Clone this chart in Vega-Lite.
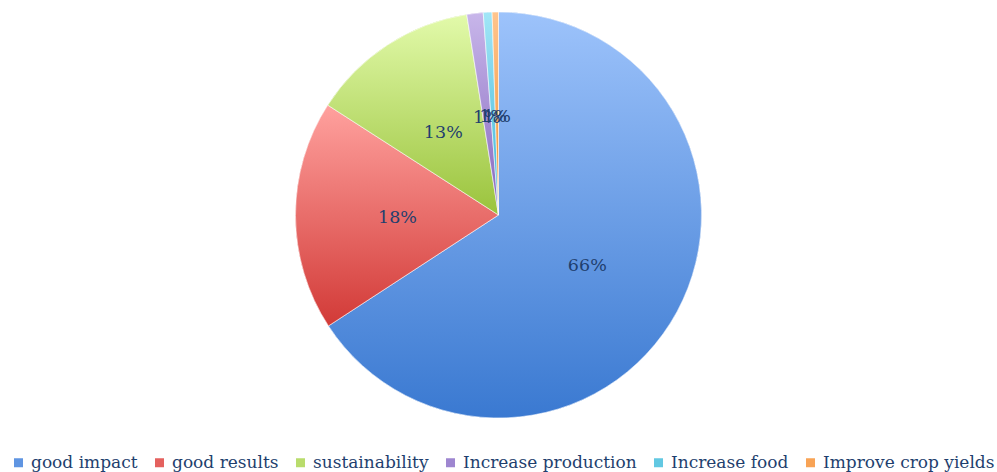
{
  "$schema": "https://vega.github.io/schema/vega-lite/v6.json",
  "width": 997,
  "height": 430,
  "autosize": {"type": "none"},
  "padding": {"top": 0, "left": 0, "right": 0, "bottom": 42},
  "background": "white",
  "view": {"stroke": null},
  "data": {
    "values": [
      {"cat": "good impact", "value": 65.8, "order": 1, "label": "66%"},
      {"cat": "good results", "value": 18.3, "order": 2, "label": "18%"},
      {"cat": "sustainability", "value": 13.4, "order": 3, "label": "13%"},
      {"cat": "Increase production", "value": 1.3, "order": 4, "label": "1%"},
      {"cat": "Increase food", "value": 0.7, "order": 5, "label": "1%"},
      {"cat": "Improve crop yields", "value": 0.5, "order": 6, "label": "1%"}
    ]
  },
  "transform": [
    {"stack": "value", "groupby": [], "sort": [{"field": "order", "order": "ascending"}], "as": ["v0", "v1"]}
  ],
  "layer": [
    {
      "mark": {"type": "arc", "outerRadius": 203},
      "encoding": {
        "theta": {"field": "v0", "type": "quantitative", "scale": {"domain": [0, 100]}},
        "theta2": {"field": "v1"},
        "color": {
          "field": "cat",
          "type": "nominal",
          "scale": {
            "domain": ["good impact", "good results", "sustainability", "Increase production", "Increase food", "Improve crop yields"],
            "range": ["#5F95E2", "#E4615E", "#B9DC6C", "#9E86D0", "#62C8E2", "#F8A355"]
          },
          "legend": {
            "orient": "none",
            "legendX": 10,
            "legendY": 454,
            "direction": "horizontal",
            "columns": 6,
            "title": null,
            "symbolType": "square",
            "symbolSize": 81,
            "symbolStrokeWidth": 0,
            "labelFont": "DejaVu Serif",
            "labelFontSize": 17,
            "labelColor": "#1F3F6E",
            "labelOffset": 4,
            "columnPadding": 13,
            "labelLimit": 300
          }
        }
      }
    },
    {
      "transform": [{"filter": "datum.cat === 'good impact'"}],
      "mark": {"type": "arc", "outerRadius": 203, "stroke": "#ffffff", "strokeWidth": 0.6,
        "fill": {"gradient": "linear", "x1": 0, "y1": 0, "x2": 0, "y2": 1, "stops": [{"offset": 0, "color": "#9DC3FB"}, {"offset": 1, "color": "#3A79D1"}]}},
      "encoding": {"theta": {"field": "v0", "type": "quantitative"}, "theta2": {"field": "v1"}}
    },
    {
      "transform": [{"filter": "datum.cat === 'good results'"}],
      "mark": {"type": "arc", "outerRadius": 203, "stroke": "#ffffff", "strokeWidth": 0.6,
        "fill": {"gradient": "linear", "x1": 0, "y1": 0, "x2": 0, "y2": 1, "stops": [{"offset": 0, "color": "#FFA19E"}, {"offset": 1, "color": "#D23A37"}]}},
      "encoding": {"theta": {"field": "v0", "type": "quantitative"}, "theta2": {"field": "v1"}}
    },
    {
      "transform": [{"filter": "datum.cat === 'sustainability'"}],
      "mark": {"type": "arc", "outerRadius": 203, "stroke": "#ffffff", "strokeWidth": 0.6,
        "fill": {"gradient": "linear", "x1": 0, "y1": 0, "x2": 0, "y2": 1, "stops": [{"offset": 0, "color": "#E2FAAA"}, {"offset": 1, "color": "#9AC33C"}]}},
      "encoding": {"theta": {"field": "v0", "type": "quantitative"}, "theta2": {"field": "v1"}}
    },
    {
      "transform": [{"filter": "datum.cat === 'Increase production'"}],
      "mark": {"type": "arc", "outerRadius": 203, "stroke": "#ffffff", "strokeWidth": 0.6,
        "fill": {"gradient": "linear", "x1": 0, "y1": 0, "x2": 0, "y2": 1, "stops": [{"offset": 0, "color": "#C8B6EA"}, {"offset": 1, "color": "#8466BD"}]}},
      "encoding": {"theta": {"field": "v0", "type": "quantitative"}, "theta2": {"field": "v1"}}
    },
    {
      "transform": [{"filter": "datum.cat === 'Increase food'"}],
      "mark": {"type": "arc", "outerRadius": 203, "stroke": "#ffffff", "strokeWidth": 0.6,
        "fill": {"gradient": "linear", "x1": 0, "y1": 0, "x2": 0, "y2": 1, "stops": [{"offset": 0, "color": "#A2E6F7"}, {"offset": 1, "color": "#3AB3D4"}]}},
      "encoding": {"theta": {"field": "v0", "type": "quantitative"}, "theta2": {"field": "v1"}}
    },
    {
      "transform": [{"filter": "datum.cat === 'Improve crop yields'"}],
      "mark": {"type": "arc", "outerRadius": 203, "stroke": "#ffffff", "strokeWidth": 0.6,
        "fill": {"gradient": "linear", "x1": 0, "y1": 0, "x2": 0, "y2": 1, "stops": [{"offset": 0, "color": "#FFC58E"}, {"offset": 1, "color": "#F08A26"}]}},
      "encoding": {"theta": {"field": "v0", "type": "quantitative"}, "theta2": {"field": "v1"}}
    },
    {
      "mark": {"type": "text", "radius": 101, "dy": 3, "font": "DejaVu Serif", "fontSize": 17.5, "color": "#1F3F6E"},
      "encoding": {
        "theta": {"field": "value", "type": "quantitative", "stack": true, "sort": null},
        "order": {"field": "order", "type": "quantitative"},
        "text": {"field": "label", "type": "nominal"}
      }
    }
  ]
}
